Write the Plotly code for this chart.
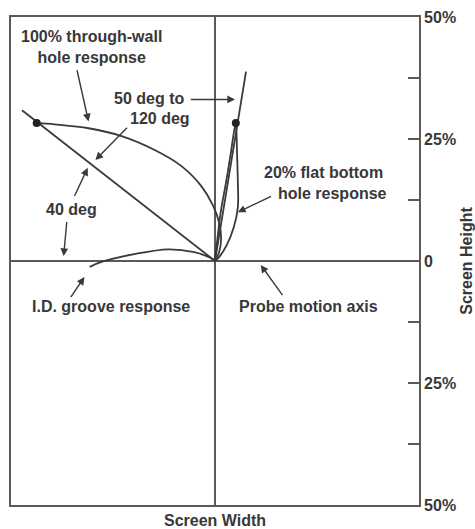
import plotly.graph_objects as go

# ---- data (screen % units; x = screen width, y = screen height) ----
line40_x = [-47.3, 0.0]
line40_y = [30.9, 0.0]

thru_x = [-43.7, -39.3, -31.0, -22.9, -14.9, -8.3, -3.4, -0.5, 1.0, 1.5, 1.0, 0.0]
thru_y = [28.3, 28.0, 27.2, 25.6, 22.8, 19.5, 15.4, 11.4, 7.9, 4.5, 1.8, 0.0]

fbh_line_x = [0.0, 7.6]
fbh_line_y = [0.0, 38.8]

fbh_loop_x = [0.0, 0.5, 1.4, 2.7, 3.9, 4.6, 5.1, 5.4, 5.6, 5.6, 4.6, 2.9, 1.0, 0.0]
fbh_loop_y = [0.0, 3.9, 10.0, 16.1, 22.2, 26.2, 28.3, 22.2, 16.1, 11.0, 6.9, 3.3, 0.8, 0.0]

groove_x = [-30.7, -27.8, -19.8, -11.5, -5.1, -1.0, 0.0]
groove_y = [-1.2, -0.2, 1.4, 2.4, 1.8, 0.6, 0.0]

dot_x = [-43.7, 5.1]
dot_y = [28.3, 28.3]

tick_vals = [-50, -37.5, -25, -12.5, 0, 12.5, 25, 37.5, 50]
tick_text = ["50%", "", "25%", "", "0", "", "25%", "", "50%"]

LINE = "#3a3a3a"
FRAME = "#5a5a5a"
TEXT = "#383838"
FONT = "Liberation Sans"
FS = 16

fig = go.Figure()
for xs, ys, shape in [(line40_x, line40_y, "linear"), (thru_x, thru_y, "spline"),
                      (fbh_line_x, fbh_line_y, "linear"), (fbh_loop_x, fbh_loop_y, "spline"),
                      (groove_x, groove_y, "spline")]:
    fig.add_trace(go.Scatter(x=xs, y=ys, mode="lines",
                             line=dict(color=LINE, width=1.8, shape=shape, smoothing=1.0),
                             hoverinfo="skip", showlegend=False))
fig.add_trace(go.Scatter(x=dot_x, y=dot_y, mode="markers",
                         marker=dict(color="#222", size=8), hoverinfo="skip", showlegend=False))

# text labels
labels = [
    ("100% through-wall<br>hole response", -30.2, 43.9),
    ("50 deg to", -16.3, 33.3),
    ("120 deg", -13.4, 29.3),
    ("40 deg", -35.1, 10.6),
    ("20% flat bottom", 26.6, 18.1),
    ("hole response", 28.8, 13.8),
    ("I.D. groove response", -25.4, -9.3),
    ("Probe motion axis", 22.9, -9.3),
]
for t, x, y in labels:
    fig.add_annotation(x=x, y=y, text=t, showarrow=False, xref="x", yref="y",
                       font=dict(family=FONT, size=FS, color=TEXT, weight="bold"),
                       align="center")

# arrows: (tail x, tail y, head x, head y)
arrows = [
    (-33.9, 39.4, -31.0, 28.6),
    (-6.3, 33.1, 4.9, 33.1),
    (-21.2, 27.6, -29.3, 20.7),
    (-34.6, 13.0, -31.2, 19.1),
    (-36.3, 8.3, -37.1, 1.0),
    (14.1, 13.4, 5.6, 10.0),
    (-35.6, -7.7, -32.0, -3.3),
    (16.8, -7.3, 11.2, -0.8),
]
for tx, ty, hx, hy in arrows:
    fig.add_annotation(x=hx, y=hy, ax=tx, ay=ty, xref="x", yref="y", axref="x", ayref="y",
                       text="", showarrow=True, arrowhead=2, arrowsize=1.1,
                       arrowwidth=1.4, arrowcolor=LINE)

# axis titles
fig.add_annotation(x=0.5, y=-0.031, xref="paper", yref="paper", yanchor="middle",
                   text="Screen Width", showarrow=False,
                   font=dict(family=FONT, size=FS, color=TEXT, weight="bold"))
fig.add_annotation(x=1.1146, y=0.5, xref="paper", yref="paper", textangle=-90,
                   text="Screen Height", showarrow=False, xanchor="center", yanchor="middle",
                   font=dict(family=FONT, size=FS, color=TEXT, weight="bold"))

fig.update_layout(
    width=475, height=529,
    margin=dict(l=9, r=56, t=13, b=24),
    paper_bgcolor="white", plot_bgcolor="white",
    hovermode=False,
    xaxis=dict(range=[-50, 50], showgrid=False, zeroline=True, zerolinecolor=FRAME,
               zerolinewidth=1.8, showticklabels=False, ticks="",
               showline=True, mirror=True, linecolor=FRAME, linewidth=1.8, fixedrange=True),
    yaxis=dict(range=[-50, 50], side="right", showgrid=False, zeroline=True,
               zerolinecolor=FRAME, zerolinewidth=1.8,
               tickmode="array", tickvals=tick_vals, ticktext=tick_text,
               ticks="inside", ticklen=11, tickwidth=1.8, tickcolor=FRAME,
               tickfont=dict(family=FONT, size=FS, color=TEXT, weight="bold"),
               showline=True, mirror=True, linecolor=FRAME, linewidth=1.8, fixedrange=True),
)

fig.write_html("out.html", config={"displayModeBar": False},
               post_script="document.body.style.margin='0';document.body.style.overflow='hidden';")
